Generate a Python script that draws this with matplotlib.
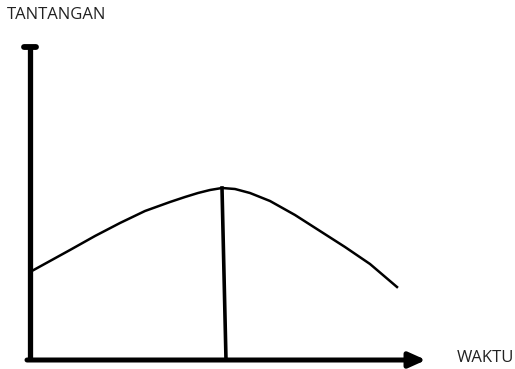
import numpy as np
import matplotlib
matplotlib.use("Agg")
import matplotlib.pyplot as plt

plt.rcParams['font.family'] = ['Open Sans', 'DejaVu Sans']

# sketch of challenge (tantangan) over time (waktu)
waktu = [0, 20, 40, 65, 90, 115, 140, 155, 168, 180, 192, 205, 220, 240, 265, 290, 315, 340, 367]
tantangan = [88, 99, 110, 124, 137, 149, 158, 163, 167, 170, 172, 171, 167, 159, 145, 129, 113, 96, 73]
puncak_waktu = 192
puncak_tantangan = 172
x_label = "WAKTU"
y_label = "TANTANGAN"


fig = plt.figure(figsize=(5.15, 3.69), dpi=100)
ax = fig.add_axes([0, 0, 1, 1])
ax.set_xlim(-30, 485)
ax.set_ylim(-9, 360)
ax.axis('off')

# axes drawn by hand
ax.plot([0, 0], [-1, 314], color='black', lw=3.8, solid_capstyle='butt')
ax.plot([-6, 6], [313, 313], color='black', lw=4.2, solid_capstyle='round')
ax.annotate('', xy=(396, 0), xytext=(-3, 0),
            arrowprops=dict(arrowstyle='-|>,head_length=1.0,head_width=0.45',
                            color='black', lw=3.6, shrinkA=0, shrinkB=0))

# curve and the line down from the peak
ax.plot(waktu, tantangan, color='black', lw=1.8)
ax.plot([puncak_waktu, puncak_waktu + 4], [puncak_tantangan, 0], color='black', lw=2.6)

ax.text(-23, 345, y_label, fontsize=12, va='center', ha='left', color='#222222')
ax.text(427, 2, x_label, fontsize=12, va='center', ha='left', color='#222222')

fig.savefig("out.png", dpi=100)
